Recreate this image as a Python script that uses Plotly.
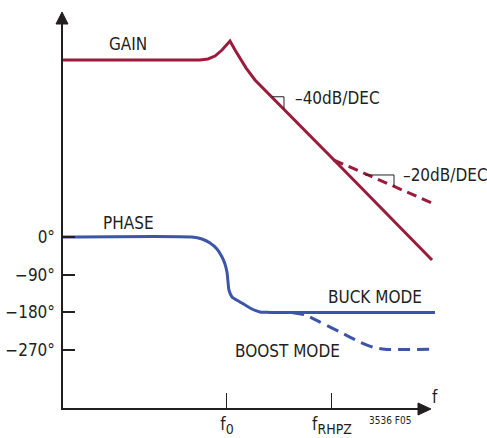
import plotly.graph_objects as go

# ---- data (x in decades from origin, gain in dB, phase in degrees) ----
gain_x = [0.0, 1.314, 1.390, 1.457, 1.524, 1.600, 1.648, 1.695, 1.752, 1.838, 2.105, 2.619, 3.524]
gain_db = [40.0, 40.0, 40.4, 41.5, 43.8, 47.2, 43.8, 40.8, 37.0, 32.4, 21.7, 0.76, -36.2]

gain_rhpz_x = [2.590, 3.524]
gain_rhpz_db = [1.9, -14.5]

phase_x = [0.0, 1.238, 1.333, 1.410, 1.476, 1.524, 1.552, 1.571, 1.581, 1.590, 1.619, 1.695, 1.790, 1.886, 1.98, 3.552]
phase_deg = [0, 0, -4.8, -14.3, -28.6, -47.7, -64.5, -83.6, -107, -126.5, -143, -155, -169.5, -179, -180, -180]

boost_x = [2.190, 2.314, 2.457, 2.648, 2.838, 2.962, 3.076, 3.524]
boost_deg = [-180, -186, -203, -227, -251, -263, -268, -268]

phase_ticks = [0, -90, -180, -270]
phase_ticklabels = ["0°", "−90°", "−180°", "−270°"]
freq_ticks = [1.571, 2.571]
freq_ticklabels = ["f<sub><span style='font-size:14px'>0</span></sub>",
                   "f<sub><span style='font-size:14px'>RHPZ</span></sub>"]

RED = "#9b1b3b"
BLUE = "#3c55a8"
INK = "#231f20"
FONT = "DejaVu Sans Condensed, Roboto, sans-serif"

W, H = 487, 438
ML, MR, MT, MB = 62, 42, 10, 29
PW, PH = W - ML - MR, H - MT - MB


def px(xp):
    return (xp - ML) / PW


def py(yp):
    return (H - MB - yp) / PH


fig = go.Figure()
fig.add_trace(go.Scatter(x=gain_x, y=gain_db, mode="lines", yaxis="y",
                         line=dict(color=RED, width=3), hoverinfo="skip"))
fig.add_trace(go.Scatter(x=gain_rhpz_x, y=gain_rhpz_db, mode="lines", yaxis="y",
                         line=dict(color=RED, width=3, dash="10px,6px"), hoverinfo="skip"))
fig.add_trace(go.Scatter(x=phase_x, y=phase_deg, mode="lines", yaxis="y2",
                         line=dict(color=BLUE, width=3, shape="spline", smoothing=0.6),
                         hoverinfo="skip"))
fig.add_trace(go.Scatter(x=boost_x, y=boost_deg, mode="lines", yaxis="y2",
                         line=dict(color=BLUE, width=3, shape="spline", smoothing=0.6,
                                   dash="12px,7px"), hoverinfo="skip"))

shapes = [
    # axes
    dict(type="line", xref="paper", yref="paper", x0=px(62), y0=py(409), x1=px(62), y1=py(22),
         line=dict(color=INK, width=2)),
    dict(type="line", xref="paper", yref="paper", x0=px(61), y0=py(409), x1=px(420), y1=py(409),
         line=dict(color=INK, width=2)),
    dict(type="path", xref="paper", yref="paper",
         path=f"M {px(56)},{py(24)} L {px(68)},{py(24)} L {px(62)},{py(12)} Z",
         fillcolor=INK, line=dict(color=INK, width=1)),
    dict(type="path", xref="paper", yref="paper",
         path=f"M {px(418)},{py(403)} L {px(418)},{py(415)} L {px(431)},{py(409)} Z",
         fillcolor=INK, line=dict(color=INK, width=1)),
    # slope markers
    dict(type="line", xref="x", yref="y", x0=2.0, y0=26.0, x1=2.114, y1=26.0,
         line=dict(color=INK, width=1)),
    dict(type="line", xref="x", yref="y", x0=2.114, y0=26.0, x1=2.114, y1=21.3,
         line=dict(color=INK, width=1)),
    dict(type="line", xref="x", yref="y", x0=2.886, y0=-3.8, x1=3.162, y1=-3.8,
         line=dict(color=INK, width=1)),
    dict(type="line", xref="x", yref="y", x0=3.162, y0=-3.8, x1=3.162, y1=-8.2,
         line=dict(color=INK, width=1)),
]

tf = dict(family=FONT, size=17, color=INK)
annotations = [
    dict(x=0.629, y=46.1, xref="x", yref="y", text="GAIN", showarrow=False, font=tf),
    dict(x=2.2, y=25.5, xref="x", yref="y", text="–40dB/DEC", showarrow=False,
         xanchor="left", font=tf),
    dict(x=3.229, y=-3.8, xref="x", yref="y", text="–20dB/DEC", showarrow=False,
         xanchor="left", font=tf),
    dict(x=0.629, y=33.4, xref="x", yref="y2", text="PHASE", showarrow=False, font=tf),
    dict(x=2.981, y=-143, xref="x", yref="y2", text="BUCK MODE", showarrow=False, font=tf),
    dict(x=2.152, y=-272, xref="x", yref="y2", text="BOOST MODE", showarrow=False, font=tf),
    dict(x=px(440), y=py(409), xref="paper", yref="paper", text="f", showarrow=False, font=tf),
    dict(x=px(413), y=py(428), xref="paper", yref="paper", text="3536 F05", showarrow=False,
         font=dict(family=FONT, size=10, color=INK)),
]

fig.update_layout(
    width=W, height=H,
    margin=dict(l=ML, r=MR, t=MT, b=MB, pad=0, autoexpand=False),
    paper_bgcolor="white", plot_bgcolor="white",
    showlegend=False,
    xaxis=dict(range=[0, PW / 105], showgrid=False, zeroline=False, showline=False,
               automargin=False,
               tickvals=freq_ticks, ticktext=freq_ticklabels, ticks="inside", ticklen=16,
               tickwidth=1, tickcolor=INK, tickfont=tf, ticklabelstandoff=3),
    yaxis=dict(range=[(165 - (H - MB)) / 2.625, (165 - MT) / 2.625], visible=False,
               automargin=False),
    yaxis2=dict(range=[(237 - (H - MB)) / 0.4189, (237 - MT) / 0.4189], overlaying="y",
                side="left", showgrid=False, zeroline=False, showline=False,
                automargin=False,
                tickvals=phase_ticks, ticktext=phase_ticklabels, ticks="inside",
                ticklen=13, tickwidth=1.5, tickcolor=INK, tickfont=tf, ticklabelstandoff=6),
    shapes=shapes,
    annotations=annotations,
)

fig.write_html("out.html", config={"displayModeBar": False},
               post_script="document.body.style.margin='0';document.body.style.overflow='hidden';")
